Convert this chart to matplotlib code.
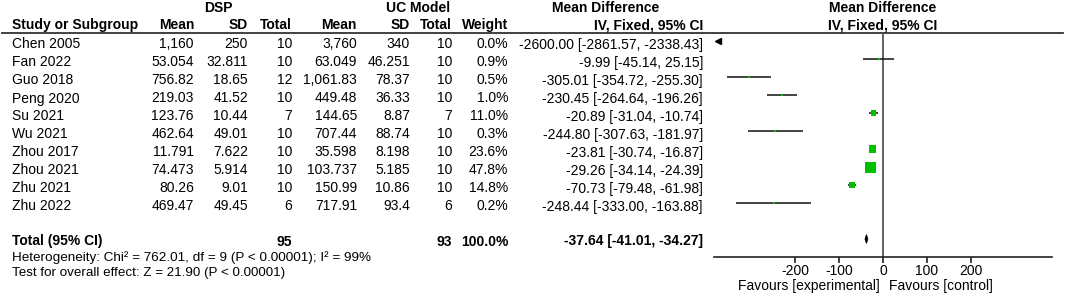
import matplotlib
matplotlib.use("Agg")
import matplotlib.pyplot as plt
from matplotlib.patches import Polygon
import numpy as np

plt.rcParams['font.family'] = ['Liberation Sans', 'DejaVu Sans']

# ---------------- data ----------------
studies = ["Chen 2005", "Fan 2022", "Guo 2018", "Peng 2020", "Su 2021", "Wu 2021",
           "Zhou 2017", "Zhou 2021", "Zhu 2021", "Zhu 2022"]
dsp_mean = ["1,160", "53.054", "756.82", "219.03", "123.76", "462.64", "11.791", "74.473", "80.26", "469.47"]
dsp_sd = ["250", "32.811", "18.65", "41.52", "10.44", "49.01", "7.622", "5.914", "9.01", "49.45"]
dsp_n = [10, 10, 12, 10, 7, 10, 10, 10, 10, 6]
uc_mean = ["3,760", "63.049", "1,061.83", "449.48", "144.65", "707.44", "35.598", "103.737", "150.99", "717.91"]
uc_sd = ["340", "46.251", "78.37", "36.33", "8.87", "88.74", "8.198", "5.185", "10.86", "93.4"]
uc_n = [10, 10, 10, 10, 7, 10, 10, 10, 10, 6]
weight = [0.0, 0.9, 0.5, 1.0, 11.0, 0.3, 23.6, 47.8, 14.8, 0.2]
md = [-2600.00, -9.99, -305.01, -230.45, -20.89, -244.80, -23.81, -29.26, -70.73, -248.44]
ci_lo = [-2861.57, -45.14, -354.72, -264.64, -31.04, -307.63, -30.74, -34.14, -79.48, -333.00]
ci_hi = [-2338.43, 25.15, -255.30, -196.26, -10.74, -181.97, -16.87, -24.39, -61.98, -163.88]

total_dsp = 95
total_uc = 93
total_weight = 100.0
total_md = -37.64
total_lo = -41.01
total_hi = -34.27

heterogeneity = "Heterogeneity: Chi\u00b2 = 762.01, df = 9 (P < 0.00001); I\u00b2 = 99%"
overall = "Test for overall effect: Z = 21.90 (P < 0.00001)"
ticks = [-200, -100, 0, 100, 200]
x_range = (-384, 384)

# ---------------- layout ----------------
W, H = 1065, 295
fig = plt.figure(figsize=(W / 100, H / 100), dpi=100)
tab = fig.add_axes([0, 0, 1, 1])
tab.set_xlim(0, W)
tab.set_ylim(H, 0)
tab.axis('off')

FS = 10
GREEN = '#00c000'
row0, dy = 41.0, 18.0
rows_y = [row0 + dy * i for i in range(len(studies))]
tot_y = rows_y[-1] + 2 * dy
base_off = 7.5

# headers
tab.text(218, 12, "DSP", ha='center', va='baseline', fontsize=FS, fontweight='bold')
tab.text(418, 12, "UC Model", ha='center', va='baseline', fontsize=FS, fontweight='bold')
tab.text(606, 12, "Mean Difference", ha='center', va='baseline', fontsize=FS, fontweight='bold')
tab.text(883, 12, "Mean Difference", ha='center', va='baseline', fontsize=FS, fontweight='bold')
cols_right = [194, 248, 292, 357, 410, 452, 508]
hdrs = ["Mean", "SD", "Total", "Mean", "SD", "Total", "Weight"]
tab.text(12, 29, "Study or Subgroup", ha='left', va='baseline', fontsize=FS, fontweight='bold')
for x, h in zip(cols_right, hdrs):
    tab.text(x, 29, h, ha='right', va='baseline', fontsize=FS, fontweight='bold')
tab.text(703, 29, "IV, Fixed, 95% CI", ha='right', va='baseline', fontsize=FS, fontweight='bold')
tab.text(883, 29, "IV, Fixed, 95% CI", ha='center', va='baseline', fontsize=FS, fontweight='bold')
tab.plot([2, 1063], [33, 33], color='#333333', lw=1.3)

# study rows
for i, y in enumerate(rows_y):
    b = y + base_off
    tab.text(12, b, studies[i], ha='left', va='baseline', fontsize=FS)
    vals = [dsp_mean[i], dsp_sd[i], str(dsp_n[i]), uc_mean[i], uc_sd[i], str(uc_n[i]),
            f"{weight[i]:.1f}%"]
    for x, v in zip(cols_right, vals):
        tab.text(x, b, v, ha='right', va='baseline', fontsize=FS)
    tab.text(703, b, f"{md[i]:.2f} [{ci_lo[i]:.2f}, {ci_hi[i]:.2f}]",
             ha='right', va='baseline', fontsize=FS)

# total row
b = tot_y + base_off - 1
tab.text(12, b, "Total (95% CI)", ha='left', va='baseline', fontsize=FS, fontweight='bold')
tab.text(292, b, str(total_dsp), ha='right', va='baseline', fontsize=FS, fontweight='bold')
tab.text(452, b, str(total_uc), ha='right', va='baseline', fontsize=FS, fontweight='bold')
tab.text(508, b, f"{total_weight:.1f}%", ha='right', va='baseline', fontsize=FS, fontweight='bold')
tab.text(703, b, f"{total_md:.2f} [{total_lo:.2f}, {total_hi:.2f}]",
         ha='right', va='baseline', fontsize=FS, fontweight='bold')
tab.text(12, 261, heterogeneity, ha='left', va='baseline', fontsize=9.7)
tab.text(12, 276, overall, ha='left', va='baseline', fontsize=9.6)

# ---------------- forest axes ----------------
ax_left, ax_right = 714, 1052
ax_top, ax_bot = 33, 257
fp = fig.add_axes([ax_left / W, (H - ax_bot) / H, (ax_right - ax_left) / W, (ax_bot - ax_top) / H])
fp.set_xlim(*x_range)
fp.set_ylim(ax_bot, ax_top)
fp.patch.set_alpha(0)
for s in ['left', 'top', 'right']:
    fp.spines[s].set_visible(False)
fp.spines['bottom'].set_color('#222222')
fp.spines['bottom'].set_linewidth(1.2)
fp.set_yticks([])
fp.set_xticks(ticks)
fp.set_xticklabels([str(t) for t in ticks])
fp.tick_params(axis='x', direction='out', length=4, width=1.2, color='#222222',
               labelsize=FS, pad=1)
fp.axvline(0, color='#555555', lw=1.3, zorder=1)

for i, y in enumerate(rows_y):
    lo, hi, m = ci_lo[i], ci_hi[i], md[i]
    if hi < x_range[0]:
        fp.plot([x_range[0] + 8], [y], marker='<', color='black', markersize=4.5,
                clip_on=False, zorder=3)
        continue
    fp.hlines(y, max(lo, x_range[0]), min(hi, x_range[1]), color='#111111', lw=1.1, zorder=2)
    side_px = max(2.0, 11.0 * np.sqrt(weight[i] / max(weight)))
    fp.scatter([m], [y], marker='s', s=(side_px * 0.72) ** 2, color=GREEN,
               edgecolors='none', zorder=3)

dia_h = 4.5
fp.add_patch(Polygon([(total_lo, tot_y), (total_md, tot_y - dia_h),
                      (total_hi, tot_y), (total_md, tot_y + dia_h)],
                     closed=True, facecolor='black', edgecolor='black', lw=0.5, zorder=3))

tab.text(880, 290, "Favours [experimental]", ha='right', va='baseline', fontsize=FS)
tab.text(889, 290, "Favours [control]", ha='left', va='baseline', fontsize=FS)

fig.savefig("out.png", dpi=100)
